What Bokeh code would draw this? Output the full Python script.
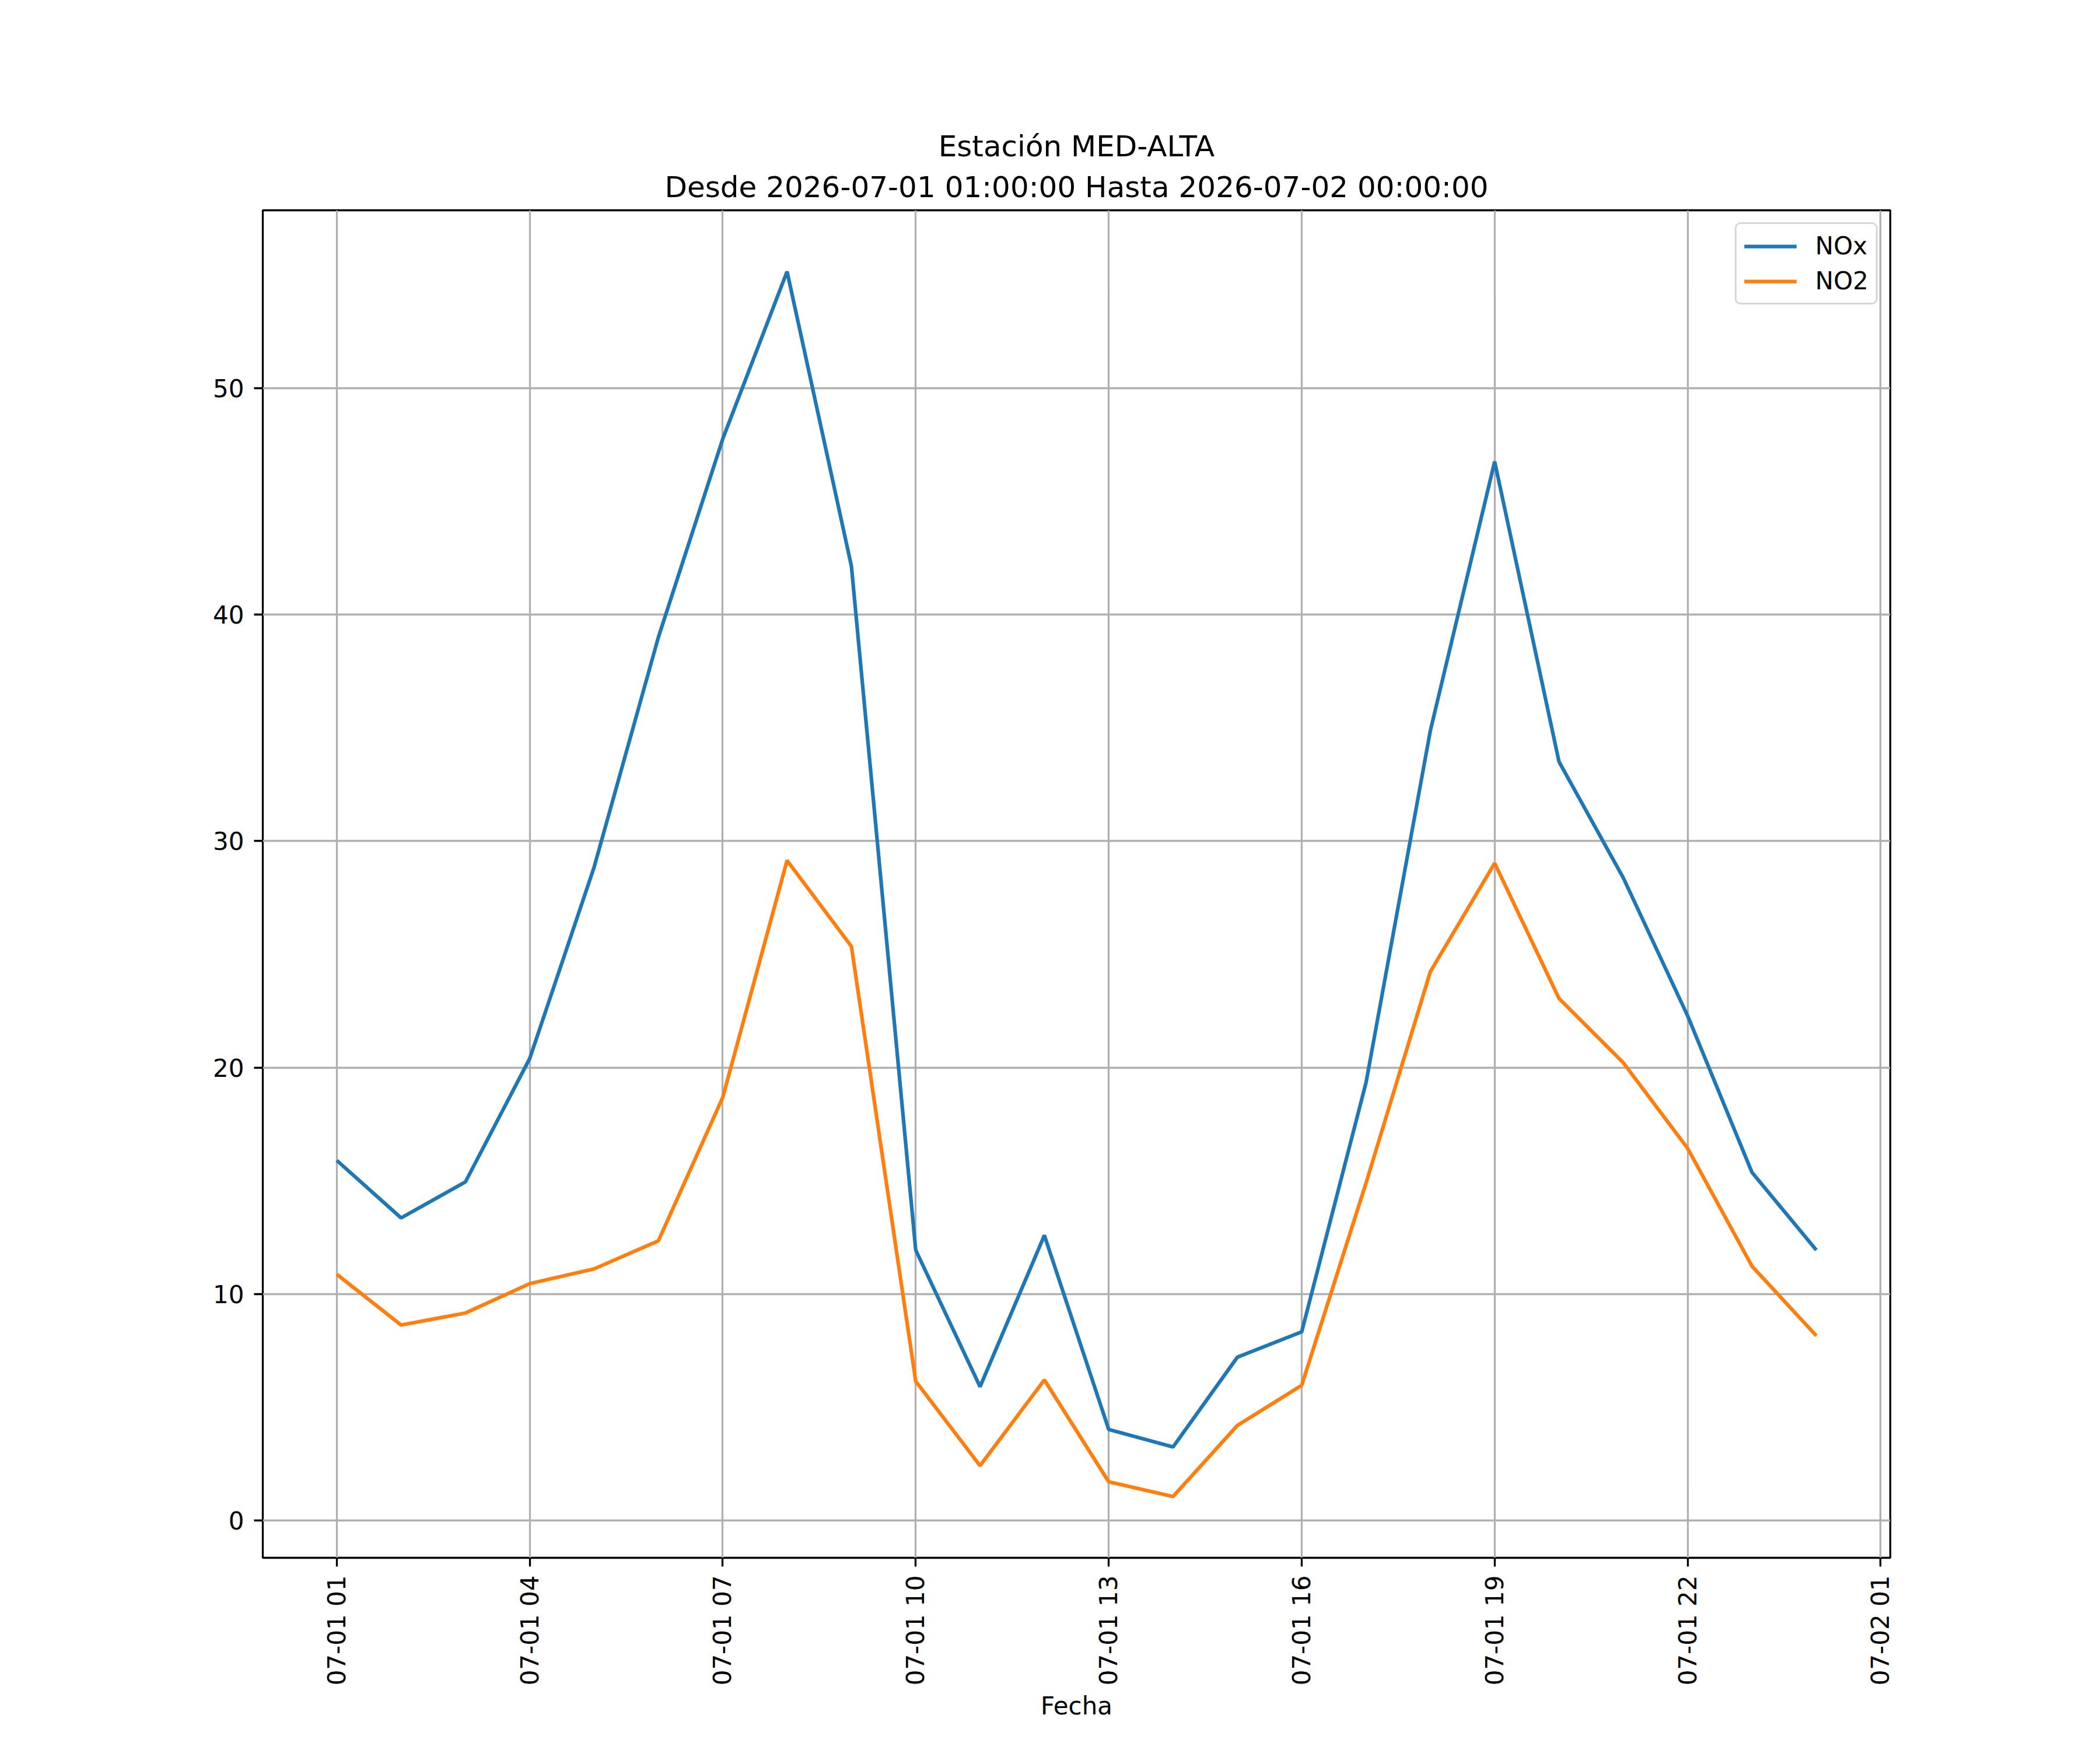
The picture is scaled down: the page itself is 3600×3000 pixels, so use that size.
import math
import pandas as pd
from bokeh.plotting import figure
from bokeh.models import (Range1d, FixedTicker, DatetimeTickFormatter, Title,
                          Legend, LegendItem)
from bokeh.embed import file_html
from bokeh.resources import INLINE

# ---------------- data ----------------
hours = [
    "2026-07-01 01:00", "2026-07-01 02:00", "2026-07-01 03:00", "2026-07-01 04:00",
    "2026-07-01 05:00", "2026-07-01 06:00", "2026-07-01 07:00", "2026-07-01 08:00",
    "2026-07-01 09:00", "2026-07-01 10:00", "2026-07-01 11:00", "2026-07-01 12:00",
    "2026-07-01 13:00", "2026-07-01 14:00", "2026-07-01 15:00", "2026-07-01 16:00",
    "2026-07-01 17:00", "2026-07-01 18:00", "2026-07-01 19:00", "2026-07-01 20:00",
    "2026-07-01 21:00", "2026-07-01 22:00", "2026-07-01 23:00", "2026-07-02 00:00",
]
nox = [15.9, 13.36, 14.95, 20.4, 28.84, 39.0, 47.75, 55.14, 42.14, 11.94, 5.91, 12.59,
       4.02, 3.25, 7.21, 8.33, 19.33, 34.87, 46.75, 33.5, 28.37, 22.28, 15.37, 11.94]
no2 = [10.87, 8.63, 9.16, 10.46, 11.11, 12.35, 18.68, 29.14, 25.35, 6.15, 2.42, 6.21,
       1.71, 1.06, 4.2, 5.97, 14.9, 24.23, 29.02, 23.05, 20.21, 16.43, 11.23, 8.16]
x_tick_times = ["2026-07-01 01:00", "2026-07-01 04:00", "2026-07-01 07:00",
                "2026-07-01 10:00", "2026-07-01 13:00", "2026-07-01 16:00",
                "2026-07-01 19:00", "2026-07-01 22:00", "2026-07-02 01:00"]
y_ticks = [0, 10, 20, 30, 40, 50]
title_line1 = "Estación MED-ALTA"
title_line2 = "Desde 2026-07-01 01:00:00 Hasta 2026-07-02 00:00:00"
x_label = "Fecha"
series_names = ["NOx", "NO2"]
series_colors = ["#1f77b4", "#ff7f0e"]

# ---------------- ranges (5% margins) ----------------
t = pd.to_datetime(hours)
t_ms = [(ts - pd.Timestamp("1970-01-01")) / pd.Timedelta(milliseconds=1) for ts in t]
span = t_ms[-1] - t_ms[0]
x_start, x_end = t_ms[0] - 0.05 * span, t_ms[-1] + 0.05 * span
all_vals = nox + no2
vmin, vmax = min(all_vals), max(all_vals)
vr = vmax - vmin
y_start, y_end = vmin - 0.05 * vr, vmax + 0.05 * vr

tick_ms = [(pd.Timestamp(s) - pd.Timestamp("1970-01-01")) / pd.Timedelta(milliseconds=1)
           for s in x_tick_times]

FONT = "DejaVu Sans"

p = figure(x_axis_type="datetime", title=None,
           frame_width=2790, frame_height=2310,
           min_border_left=450, min_border_right=352,
           min_border_top=360, min_border_bottom=322,
           x_range=Range1d(x_start, x_end), y_range=Range1d(y_start, y_end),
           output_backend="svg", toolbar_location=None)

p.background_fill_color = "white"
p.border_fill_color = "white"
p.outline_line_color = "black"
p.outline_line_width = 3.3

r1 = p.line(t_ms, nox, line_color=series_colors[0], line_width=6.25)
r2 = p.line(t_ms, no2, line_color=series_colors[1], line_width=6.25)

# axes
fmt = "%m-%d %H"
p.xaxis.ticker = FixedTicker(ticks=tick_ms)
p.xaxis.formatter = DatetimeTickFormatter(
    milliseconds=fmt, seconds=fmt, minsec=fmt, minutes=fmt, hourmin=fmt,
    hours=fmt, days=fmt, months=fmt, years=fmt)
p.xaxis.major_label_orientation = math.pi / 2
p.yaxis.ticker = FixedTicker(ticks=y_ticks)

for ax in (p.xaxis[0], p.yaxis[0]):
    ax.axis_line_color = None
    ax.major_tick_line_color = "black"
    ax.major_tick_line_width = 3.3
    ax.major_tick_out = 15
    ax.major_tick_in = 0
    ax.minor_tick_line_color = None
    ax.major_label_text_font = FONT
    ax.major_label_text_font_size = "42px"
    ax.major_label_text_color = "black"
p.xaxis.major_label_standoff = 15
p.yaxis.major_label_standoff = 17

p.xaxis.axis_label = x_label
p.xaxis.axis_label_text_font = FONT
p.xaxis.axis_label_text_font_size = "42px"
p.xaxis.axis_label_text_font_style = "normal"
p.xaxis.axis_label_text_color = "black"
p.xaxis.axis_label_standoff = 8

for g in (p.xgrid[0], p.ygrid[0]):
    g.grid_line_color = "#b0b0b0"
    g.grid_line_width = 3.3
p.xgrid.ticker = FixedTicker(ticks=tick_ms)
p.ygrid.ticker = FixedTicker(ticks=y_ticks)

# titles (two centred lines; first added sits nearest the frame)
t2 = Title(text=title_line2, align="center", text_font=FONT, text_font_size="50px",
           text_font_style="normal", text_color="black", standoff=21)
t1 = Title(text=title_line1, align="center", text_font=FONT, text_font_size="50px",
           text_font_style="normal", text_color="black", standoff=0)
p.add_layout(t2, "above")
p.add_layout(t1, "above")

# legend
legend = Legend(items=[LegendItem(label=series_names[0], renderers=[r1]),
                       LegendItem(label=series_names[1], renderers=[r2])],
                location="top_right", margin=21, padding=13, spacing=11,
                glyph_width=90, glyph_height=42, label_standoff=32,
                label_text_font=FONT, label_text_font_size="42px",
                label_text_color="black",
                border_line_color="#cccccc", border_line_width=3.3,
                border_line_alpha=0.8, background_fill_alpha=0.8)
try:
    legend.border_radius = 10
except Exception:
    pass
p.add_layout(legend)

open("out.html", "w").write(file_html(p, INLINE))
